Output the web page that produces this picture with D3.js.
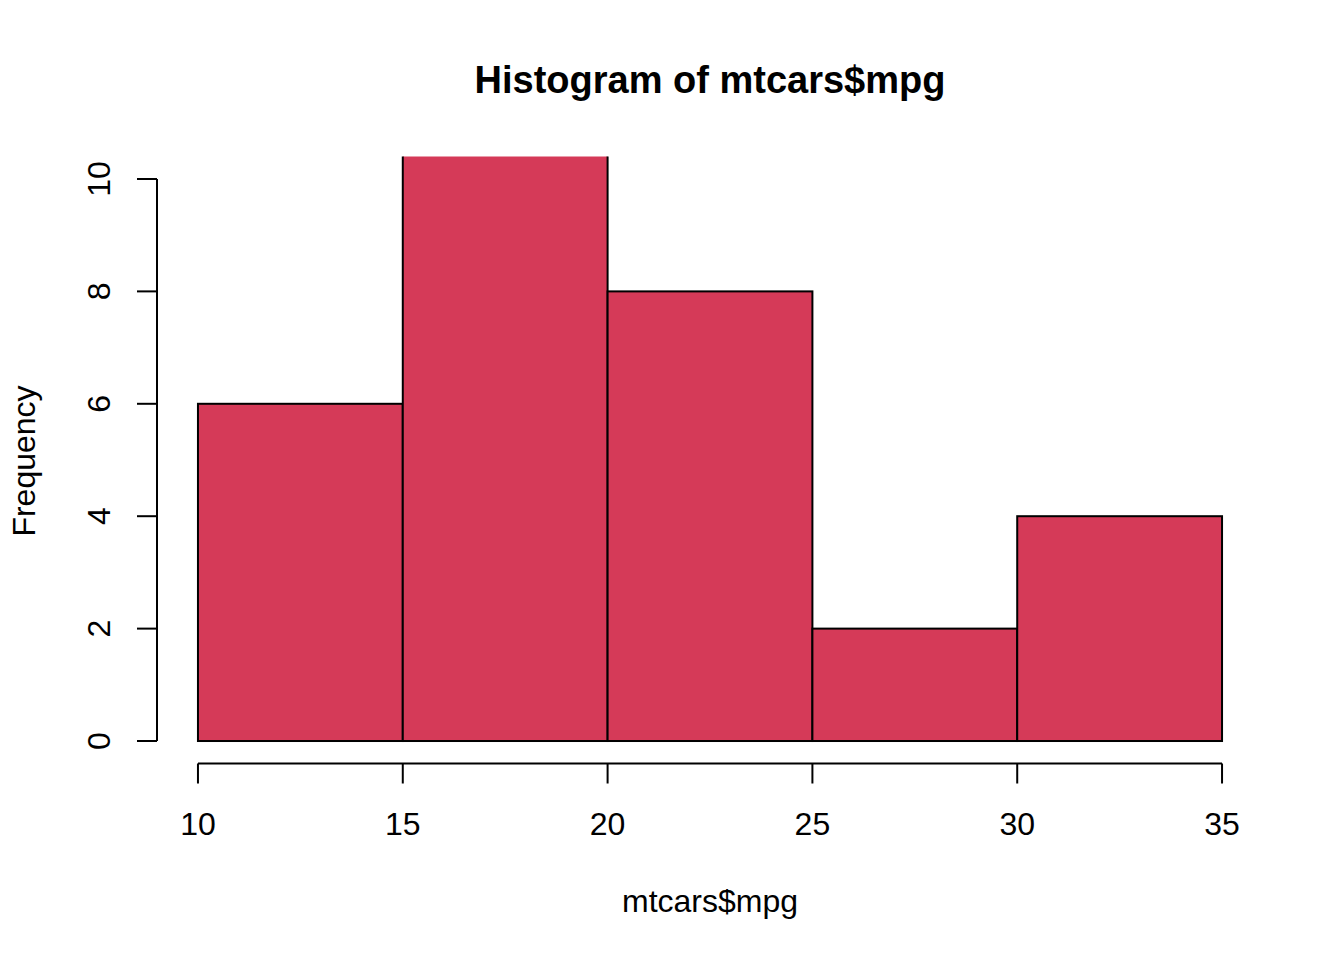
<!DOCTYPE html>
<html><head><meta charset="utf-8">
<script src="https://cdn.jsdelivr.net/npm/d3@7"></script>
<style>body{margin:0;background:#fff}text{font-family:"Liberation Sans",Arial,sans-serif;fill:#000}</style>
</head><body>
<svg id="c" width="1344" height="960"></svg>
<script>
const breaks = [10, 15, 20, 25, 30, 35];
const counts = [6, 12, 8, 2, 4];
const xTicks = [10, 15, 20, 25, 30, 35];
const yTicks = [0, 2, 4, 6, 8, 10];
const title = "Histogram of mtcars$mpg";
const xLabel = "mtcars$mpg";
const yLabel = "Frequency";

const svg = d3.select("#c");
const x = d3.scaleLinear().domain([9, 36]).range([157, 1263]);
const y = d3.scaleLinear().domain([-0.4, 10.4]).range([763.5, 156.5]);

svg.append("defs").append("clipPath").attr("id","clip")
  .append("rect").attr("x",157).attr("y",156.5).attr("width",1106).attr("height",607);

const bins = counts.map((c,i)=>({x0:breaks[i],x1:breaks[i+1],c}));
svg.append("g").attr("clip-path","url(#clip)").selectAll("rect").data(bins).join("rect")
  .attr("x",d=>x(d.x0)).attr("width",d=>x(d.x1)-x(d.x0))
  .attr("y",d=>y(d.c)).attr("height",d=>y(0)-y(d.c))
  .attr("fill","#D53A58").attr("stroke","#000").attr("stroke-width",2);

// x axis
const gx = svg.append("g").attr("transform","translate(0,763.5)");
gx.append("line").attr("x1",x(10)).attr("x2",x(35)).attr("stroke","#000").attr("stroke-width",2);
gx.selectAll("line.t").data(xTicks).join("line").attr("class","t")
  .attr("x1",d=>x(d)).attr("x2",d=>x(d)).attr("y1",0).attr("y2",20).attr("stroke","#000").attr("stroke-width",2);
gx.selectAll("text").data(xTicks).join("text")
  .attr("x",d=>x(d)).attr("y",71).attr("text-anchor","middle").attr("font-size",32).text(d=>d);

// y axis
const gy = svg.append("g").attr("transform","translate(157,0)");
gy.append("line").attr("y1",y(0)).attr("y2",y(10)).attr("stroke","#000").attr("stroke-width",2);
gy.selectAll("line.t").data(yTicks).join("line").attr("class","t")
  .attr("y1",d=>y(d)).attr("y2",d=>y(d)).attr("x1",0).attr("x2",-20).attr("stroke","#000").attr("stroke-width",2);
gy.selectAll("text").data(yTicks).join("text")
  .attr("transform",d=>`translate(-47,${y(d)}) rotate(-90)`)
  .attr("text-anchor","middle").attr("font-size",32).text(d=>d);

svg.append("text").attr("x",710).attr("y",93).attr("text-anchor","middle")
  .attr("font-size",38).attr("font-weight","bold").text(title);
svg.append("text").attr("x",710).attr("y",912).attr("text-anchor","middle")
  .attr("font-size",32).text(xLabel);
svg.append("text").attr("transform",`translate(35,461) rotate(-90)`)
  .attr("text-anchor","middle").attr("font-size",32).text(yLabel);
</script>
</body></html>
